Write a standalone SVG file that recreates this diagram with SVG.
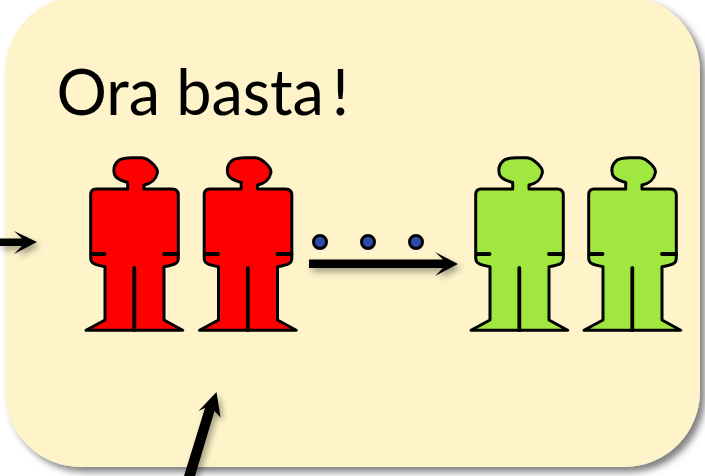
<svg xmlns="http://www.w3.org/2000/svg" width="705" height="476" viewBox="0 0 705 476">
<style>
.title{font-family:"Lato","Carlito","Liberation Sans",sans-serif;font-size:63px;fill:#000}
.body{stroke:#000;stroke-width:3;stroke-linejoin:round}
.line{stroke:#000;stroke-width:3.800;stroke-linecap:round;fill:none}
.red{fill:#ff0000}
.green{fill:#a0e73f}
.dot{fill:#2f4da8;stroke:#000;stroke-width:3}
.conn{fill:#000}
</style>
<defs>
<filter id="panelShadow" x="-5%" y="-5%" width="112%" height="112%"><feDropShadow dx="5" dy="5" stdDeviation="3.500" flood-color="#000" flood-opacity="0.5"/></filter>
<filter id="arrowShadow" x="-30%" y="-30%" width="170%" height="170%"><feDropShadow dx="3" dy="4" stdDeviation="3" flood-color="#000" flood-opacity="0.35"/></filter>
<g id="person">
<path class="body" d="M47.700 44V37.500C42 36 36 34 34.500 29.500 33 24 34 19 39.300 15 43 12.700 47 12.700 52 12.700H61.700C67 13 70 16 73 19 76 22 78 25 77.300 28 76 34 73 38 64 40V44H92C96 44 98.300 46 98.300 50V113C98.300 118 96 120 84 121.700V175L102.700 185.300H6L25 175V121.700C14 120 10.700 118 10.700 113V50C10.700 46 12 44 16 44Z"/>
<path class="line" d="M11.500 109H24.500M84 109H98M54.300 123V185"/>
</g>
</defs>
<rect id="panel" x="5" y="-4" width="695" height="471" rx="76" ry="76" fill="#fef3c9" filter="url(#panelShadow)"/>
<text id="title" class="title" x="56.500" y="115">Ora basta<tspan x="332">!</tspan></text>
<g id="person-red-1" class="red"><use href="#person" x="80" y="145"/></g>
<g id="person-red-2" class="red"><use href="#person" x="193.500" y="145"/></g>
<g id="person-green-1" class="green"><use href="#person" x="465" y="145"/></g>
<g id="person-green-2" class="green"><use href="#person" x="578" y="145"/></g>
<g id="dots">
<circle class="dot" cx="320" cy="242" r="6.500"/>
<circle class="dot" cx="368" cy="242" r="6.500"/>
<circle class="dot" cx="416" cy="242" r="6.500"/>
</g>
<g id="connectors" filter="url(#arrowShadow)">
<path class="conn" d="M309 259.500H443L435 252 458 264 435 276 443 268H309Z"/>
<path class="conn" d="M0 238.500H22L14 231 37 242 14 254 22 246H0Z"/>
<path class="conn" d="M184 476 205 408 198.500 411 216.500 392 220.500 417.500 214.500 411 195 476Z"/>
</g>
</svg>
